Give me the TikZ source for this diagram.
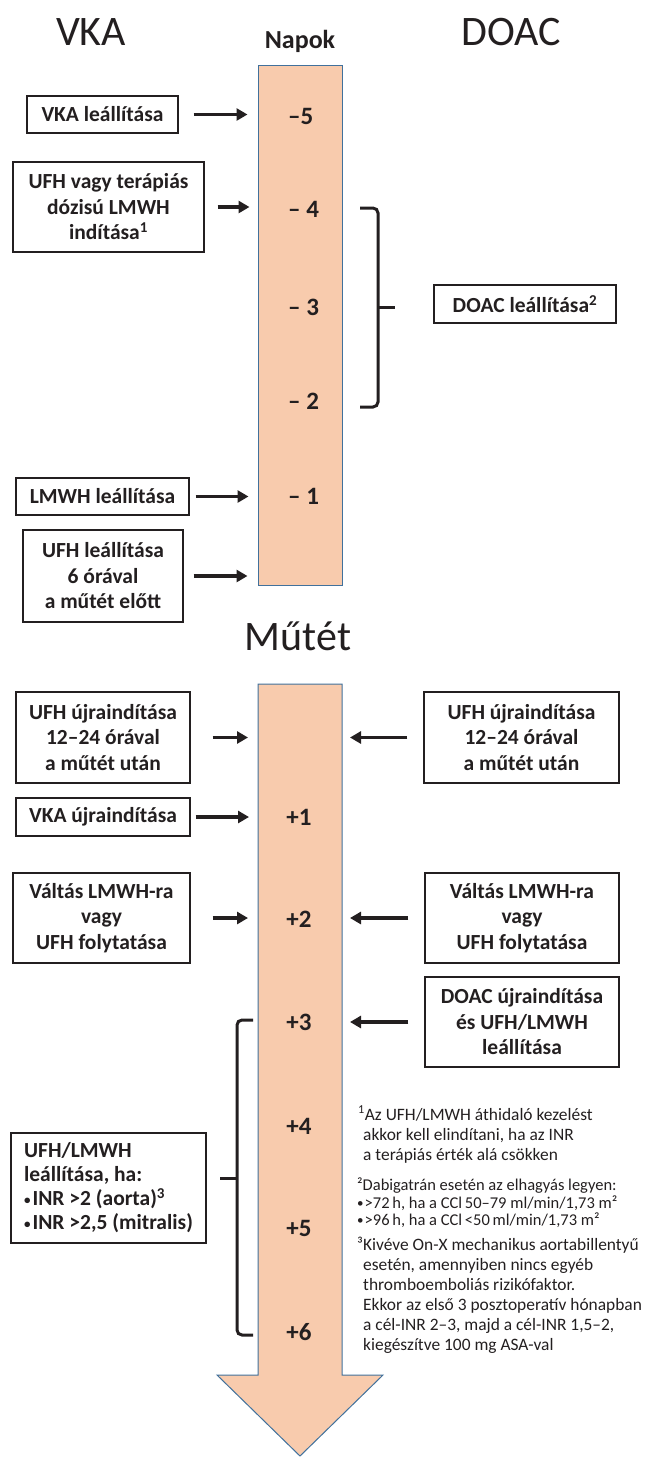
\documentclass[tikz,border=0pt]{standalone}
\usepackage{fontspec}
\setmainfont{Carlito}
\usetikzlibrary{arrows.meta}
\definecolor{ink}{HTML}{231F20}
\definecolor{peach}{HTML}{F8CBAD}
\definecolor{barline}{HTML}{41719C}
\newcommand{\smbul}{\raisebox{1pt}{\fontsize{13}{13}\selectfont •}}
\begin{document}
\begin{tikzpicture}[x=1pt,y=-1pt,
  box/.style={draw=ink, line width=1.2pt, fill=white, inner sep=0pt, align=center,
    font=\fontsize{21.5}{25.5}\selectfont\bfseries, text=ink},
  arr/.style={draw=ink, line width=3.5pt, -{Triangle[length=11pt,width=12pt]}},
  brk/.style={draw=ink, line width=3pt, rounded corners=5pt},
  barstyle/.style={fill=peach, draw=barline, line width=1pt},
  num/.style={font=\fontsize{25}{30}\selectfont\bfseries, text=ink, inner sep=0pt},
  ttl/.style={font=\fontsize{42}{50}\selectfont, text=ink, inner sep=0pt, anchor=base},
  fna/.style={font=\fontsize{17.4}{20}\selectfont, text=ink, anchor=base west, inner sep=0pt},
  fnb/.style={font=\fontsize{16.5}{18}\selectfont, text=ink, anchor=base west, inner sep=0pt}]
\useasboundingbox (0,0) rectangle (648,1457);

% titles
\node[ttl] (tvka) at (91,45) {VKA};
\node[ttl] (tdoac) at (511,45) {DOAC};
\node[inner sep=0pt, anchor=base, font=\fontsize{26}{30}\selectfont\bfseries, text=ink] (tnapok) at (300,48) {Napok};
\node[ttl] (tmutet) at (298,650) {Műtét};

% top bar
\node[barstyle, minimum width=84pt, minimum height=520pt, inner sep=0pt] (bar1) at (300,325) {};

% lower arrow
\draw[barstyle] (258,684) -- (342,684) -- (342,1375) -- (383,1375) -- (300,1456) -- (217,1375) -- (258,1375) -- cycle;
\coordinate (bar2W) at (258,700);
\coordinate (bar2E) at (342,700);

% day numbers
\node[num, anchor=base west] (dm5) at (288,124.5) {–5};
\node[num, anchor=base west] (dm4) at (288,217.5) {– 4};
\node[num, anchor=base west] (dm3) at (288,315.5) {– 3};
\node[num, anchor=base west] (dm2) at (288,409.5) {– 2};
\node[num, anchor=base west] (dm1) at (288,504.5) {– 1};
\node[num, anchor=base] (dp1) at (299,825.5) {+1};
\node[num, anchor=base] (dp2) at (299,927.5) {+2};
\node[num, anchor=base] (dp3) at (299,1030.5) {+3};
\node[num, anchor=base] (dp4) at (299,1134.5) {+4};
\node[num, anchor=base] (dp5) at (299,1236.5) {+5};
\node[num, anchor=base] (dp6) at (299,1340.5) {+6};

% left boxes (before)
\node[box, minimum width=151pt, minimum height=37pt] (b1) at (102.5,114.5) {VKA leállítása};
\node[box, minimum width=191pt, minimum height=90pt] (b2) at (108.5,207) {UFH vagy terápiás\\dózisú LMWH\\indítása\textsuperscript{1}};
\node[box, minimum width=173pt, minimum height=37pt] (b3) at (102.5,496.5) {LMWH leállítása};
\node[box, minimum width=160pt, minimum height=92pt] (b4) at (103,576) {UFH leállítása\\6 órával\\a műtét előtt};

% left boxes (after)
\node[box, minimum width=174pt, minimum height=91pt] (b5) at (103,737.5) {UFH újraindítása\\12–24 órával\\a műtét után};
\node[box, minimum width=174pt, minimum height=38pt] (b6) at (103,817) {VKA újraindítása};
\node[box, minimum width=177pt, minimum height=90pt] (b7) at (101.5,918) {Váltás LMWH-ra\\vagy\\UFH folytatása};
\node[box, minimum width=195pt, minimum height=110pt, align=left, font=\fontsize{21.5}{24}\selectfont\bfseries] (b8) at (108.5,1188) {UFH/LMWH\\leállítása, ha:\\\smbul\hspace{2pt}INR >2 (aorta)\textsuperscript{3}\\\smbul\hspace{2pt}INR >2,5 (mitralis)};

% right boxes
\node[box, minimum width=182pt, minimum height=38pt] (r1) at (525,304) {DOAC leállítása\textsuperscript{2}};
\node[box, minimum width=195pt, minimum height=91pt] (r2) at (521.5,737.5) {UFH újraindítása\\12–24 órával\\a műtét után};
\node[box, minimum width=194pt, minimum height=90pt] (r3) at (522,918) {Váltás LMWH-ra\\vagy\\UFH folytatása};
\node[box, minimum width=194pt, minimum height=90pt] (r4) at (522,1022) {DOAC újraindítása\\és UFH/LMWH\\leállítása};

% arrows
\draw[arr, shorten <=15pt, shorten >=10pt] (b1.east) -- (b1.east -| bar1.west);
\draw[arr, shorten <=13pt, shorten >=8pt] (b2.east) -- (b2.east -| bar1.west);
\draw[arr, shorten <=6pt, shorten >=9pt] (b3.east) -- (b3.east -| bar1.west);
\draw[arr, shorten <=10pt, shorten >=10pt] (b4.east) -- (b4.east -| bar1.west);
\draw[arr, shorten <=22pt, shorten >=10pt] (b5.east) -- (b5.east -| bar2W);
\draw[arr, shorten <=5pt, shorten >=9pt] (b6.east) -- (b6.east -| bar2W);
\draw[arr, shorten <=22pt, shorten >=10pt] (b7.east) -- (b7.east -| bar2W);
\draw[arr, shorten <=16pt, shorten >=8pt] (r2.west) -- (r2.west -| bar2E);
\draw[arr, shorten <=16pt, shorten >=8pt] (r3.west) -- (r3.west -| bar2E);
\draw[arr, shorten <=16pt, shorten >=8pt] (r4.west) -- (r4.west -| bar2E);

% brackets
\draw[brk] (360,208) -- (378,208) -- (378,407) -- (360,407);
\draw[brk] (378,307) -- (395,307);
\draw[brk] (253,1020) -- (237,1020) -- (237,1335) -- (253,1335);
\draw[brk] (237,1178) -- (220,1178);

% footnotes
\node[fna] (f1a) at (358,1120) {\textsuperscript{1}Az UFH/LMWH áthidaló kezelést};
\node[fna] (f1b) at (363,1140) {akkor kell elindítani, ha az INR};
\node[fna] (f1c) at (363,1160) {a terápiás érték alá csökken};
\node[fnb] (f2a) at (357,1190) {²Dabigatrán esetén az elhagyás legyen:};
\node[fnb] (f2b) at (357,1208) {\smbul\hspace{1pt}>72\,h, ha a CCl\,50–79 ml/min/1,73 m²};
\node[fnb] (f2c) at (357,1225) {\smbul\hspace{1pt}>96\,h, ha a CCl\,<50\,ml/min/1,73 m²};
\node[fna] (f3a) at (357,1250) {³Kivéve On-X mechanikus aortabillentyű};
\node[fna] (f3b) at (363,1270) {esetén, amennyiben nincs egyéb};
\node[fna] (f3c) at (363,1290) {thromboemboliás rizikófaktor.};
\node[fna] (f3d) at (363,1310) {Ekkor az első 3 posztoperatív hónapban};
\node[fna] (f3e) at (363,1330) {a cél-INR 2–3, majd a cél-INR 1,5–2,};
\node[fna] (f3f) at (363,1350) {kiegészítve 100 mg ASA-val};
\end{tikzpicture}
\end{document}
